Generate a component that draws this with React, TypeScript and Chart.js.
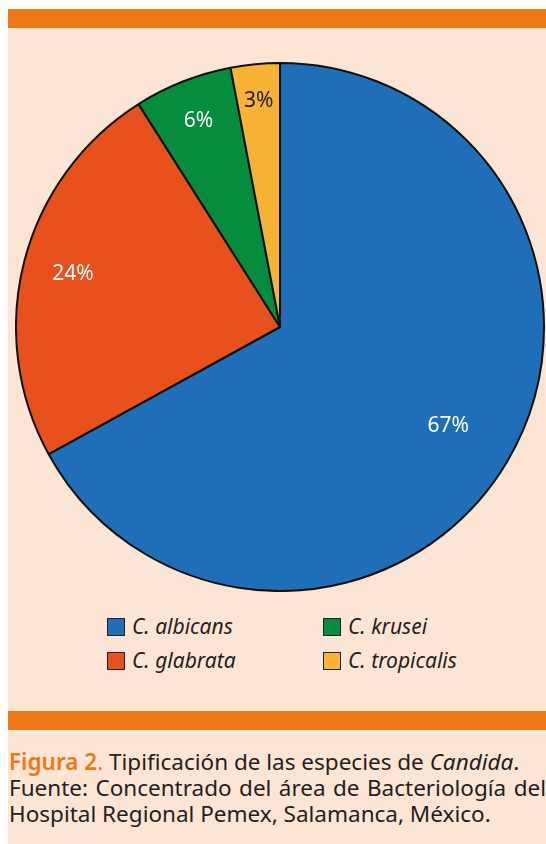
import React, { useEffect, useRef } from "react";
import { Chart, registerables } from "chart.js";

Chart.register(...registerables);

const categories = ["C. albicans", "C. glabrata", "C. krusei", "C. tropicalis"];
const values = [67, 24, 6, 3];
const valueLabels = ["67%", "24%", "6%", "3%"];
const colors = ["#1f6fb8", "#e8501e", "#058c3c", "#f8b334"];
const labelColors = ["#ffffff", "#ffffff", "#ffffff", "#231f20"];
const legendOrder = [0, 2, 1, 3];

const FONT = "'Noto Sans', 'Open Sans', sans-serif";

const labelPlugin = {
  id: "sliceLabels",
  afterDatasetsDraw(chart: any) {
    const meta = chart.getDatasetMeta(0);
    const ctx = chart.ctx;
    const factors = [0.74, 0.81, 0.84, 0.86];
    ctx.save();
    ctx.font = `21px ${FONT}`;
    ctx.textAlign = "center";
    ctx.textBaseline = "middle";
    meta.data.forEach((arc: any, i: number) => {
      const mid = (arc.startAngle + arc.endAngle) / 2;
      const r = arc.outerRadius * factors[i];
      ctx.fillStyle = labelColors[i];
      ctx.fillText(valueLabels[i], arc.x + Math.cos(mid) * r, arc.y + Math.sin(mid) * r);
    });
    ctx.restore();
  },
};

export default function App() {
  const ref = useRef<HTMLCanvasElement | null>(null);
  useEffect(() => {
    document.body.style.margin = "0";
    const chart = new Chart(ref.current as HTMLCanvasElement, {
      type: "pie",
      data: {
        labels: categories,
        datasets: [
          {
            data: values,
            backgroundColor: colors,
            borderColor: "#111111",
            borderWidth: 2,
          },
        ],
      },
      options: {
        animation: false,
        responsive: false,
        maintainAspectRatio: false,
        layout: { padding: 0 },
        plugins: { legend: { display: false }, tooltip: { enabled: false } },
      },
      plugins: [labelPlugin],
    });
    return () => chart.destroy();
  }, []);

  const legendItem = (i: number, left: number, top: number) => (
    <div key={i} style={{ position: "absolute", left, top, display: "flex", alignItems: "center", height: 29 }}>
      <div
        style={{
          width: 16,
          height: 16,
          background: colors[i],
          border: "1.5px solid #222",
          marginRight: 7,
          flexShrink: 0,
        }}
      />
      <span style={{ fontStyle: "italic", fontSize: 21, color: "#231f20", fontFamily: FONT, lineHeight: "29px" }}>
        {categories[i]}
      </span>
    </div>
  );

  return (
    <div style={{ position: "relative", width: 546, height: 844, background: "#ffffff", overflow: "hidden" }}>
      <div style={{ position: "absolute", left: 8, top: 28, width: 538, height: 816, background: "#fde5d5" }} />
      <div style={{ position: "absolute", left: 8, top: 9, width: 538, height: 19, background: "#ef7816" }} />
      <div style={{ position: "absolute", left: 8, top: 711, width: 538, height: 19, background: "#ef7816" }} />
      <canvas
        ref={ref}
        width={530}
        height={530}
        style={{ position: "absolute", left: 15, top: 62, width: 530, height: 530 }}
      />
      {legendItem(legendOrder[0], 107, 612)}
      {legendItem(legendOrder[1], 323, 612)}
      {legendItem(legendOrder[2], 107, 646)}
      {legendItem(legendOrder[3], 323, 646)}
      <div
        style={{
          position: "absolute",
          left: 9,
          top: 749,
          width: 537,
          fontFamily: FONT,
          fontSize: 22.5,
          lineHeight: "26px",
          color: "#231f20",
          whiteSpace: "nowrap",
        }}
      >
        <div>
          <span style={{ color: "#ef7816", fontWeight: 600 }}>Figura 2</span>
          <span style={{ color: "#ef7816" }}>.</span> Tipificación de las especies de <i>Candida</i>.
        </div>
        <div style={{ display: "flex", justifyContent: "space-between", width: 537 }}>
          {"Fuente: Concentrado del área de Bacteriología del".split(" ").map((w, k) => (
            <span key={k}>{w}</span>
          ))}
        </div>
        <div>Hospital Regional Pemex, Salamanca, México.</div>
      </div>
    </div>
  );
}
